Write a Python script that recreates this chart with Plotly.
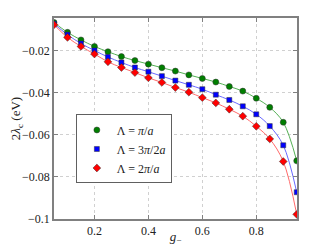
import plotly.graph_objects as go

g_minus = [0.05, 0.10, 0.15, 0.20, 0.25, 0.30, 0.35, 0.40, 0.45, 0.50,
           0.55, 0.60, 0.65, 0.70, 0.75, 0.80, 0.85, 0.90, 0.95]

lam_pi = [-0.0067, -0.0114, -0.0150, -0.0181, -0.0206, -0.0229, -0.0248, -0.0265, -0.0282, -0.0298,
          -0.0316, -0.0333, -0.0350, -0.0371, -0.0393, -0.0427, -0.0470, -0.0541, -0.0724]
lam_3pi2 = [-0.0073, -0.0125, -0.0167, -0.0200, -0.0231, -0.0257, -0.0281, -0.0301, -0.0322, -0.0343,
            -0.0363, -0.0384, -0.0410, -0.0435, -0.0465, -0.0503, -0.0559, -0.0650, -0.0873]
lam_2pi = [-0.0078, -0.0138, -0.0181, -0.0217, -0.0254, -0.0281, -0.0305, -0.0330, -0.0352, -0.0376,
           -0.0398, -0.0424, -0.0449, -0.0479, -0.0512, -0.0560, -0.0620, -0.0727, -0.0978]

names = ["Λ = <i>π</i>/<i>a</i>", "Λ = 3<i>π</i>/2<i>a</i>", "Λ = 2<i>π</i>/<i>a</i>"]
series = [lam_pi, lam_3pi2, lam_2pi]
mcolors = ["#007f00", "#0000ff", "#ff0000"]
lcolors = ["#55b055", "#6a6aff", "#ff6a6a"]
symbols = ["circle", "square", "diamond"]
msizes = [6, 5, 6]

FONT = "Liberation Serif"

fig = go.Figure()
for ys, lc in zip(series, lcolors):
    fig.add_trace(go.Scatter(x=g_minus, y=ys, mode="lines", line=dict(color=lc, width=1, shape="spline"),
                             showlegend=False, hoverinfo="skip"))
for ys, nm, mc, sy, ms in zip(series, names, mcolors, symbols, msizes):
    fig.add_trace(go.Scatter(x=g_minus, y=ys, mode="markers", name=nm,
                             marker=dict(color=mc, symbol=sy, size=ms, line=dict(width=0.5, color="#333"))))

axis_common = dict(showline=True, linecolor="#808080", linewidth=1.5, mirror="ticks",
                   ticks="inside", ticklen=4, tickcolor="#808080", automargin=False,
                   showgrid=True, gridcolor="#d0d0d0", griddash="dot", gridwidth=1,
                   zeroline=False, tickfont=dict(family=FONT, size=12, color="#222"))

# page body has an 8px default margin; figure is sized to fill the rest of the 328x246 window
fig.update_layout(
    width=320, height=238,
    margin=dict(l=46, r=31, t=10, b=27),
    paper_bgcolor="white", plot_bgcolor="white",
    font=dict(family=FONT, size=12, color="#222"),
    xaxis=dict(range=[0.05, 0.951], tickvals=[0.2, 0.4, 0.6, 0.8], ticktext=["0.2", "0.4", "0.6", "0.8"],
               title=dict(text="<i>g</i><sub>−</sub>", standoff=2, font=dict(family=FONT, size=13)), **axis_common),
    yaxis=dict(range=[-0.1, -0.0046], tickvals=[-0.1, -0.08, -0.06, -0.04, -0.02],
               ticktext=["−0.1", "−0.08", "−0.06", "−0.04", "−0.02"],
               title=dict(text="2<i>λ</i><sub>c</sub> (eV)", standoff=6, font=dict(family=FONT, size=13)), **axis_common),
    legend=dict(x=0.09, y=0.52, xanchor="left", yanchor="top", bgcolor="white",
                bordercolor="#606060", borderwidth=1, font=dict(family=FONT, size=12),
                itemwidth=30, tracegroupgap=0),
)

fig.write_html("out.html")
